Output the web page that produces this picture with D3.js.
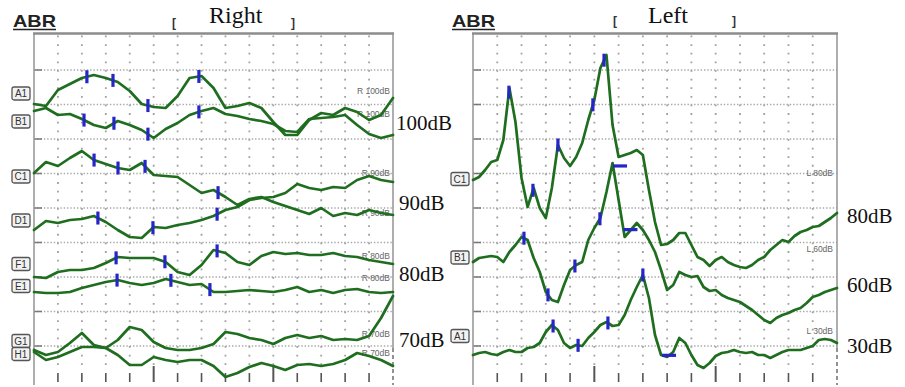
<!DOCTYPE html>
<html><head><meta charset="utf-8">
<script src="https://cdn.jsdelivr.net/npm/d3@7/dist/d3.min.js"></script>
<style>body{margin:0;background:#fff}svg{display:block}</style>
</head><body><svg id="c" width="905" height="387"></svg>
<script>
// ---------- DATA ----------
// time axis (ms), 15 ms sweep
const rightTimes = d3.range(0, 15.001, 0.5);
const leftTimes = d3.range(0, 15.001, 0.25);

// Right ear traces (amplitude units)
const rightChannels = ["A1","B1","C1","D1","F1","E1","G1","H1"];
const rightLevels = ["R 100dB","R 100dB","R 90dB","R 90dB","R 80dB","R 80dB","R 70dB","R 70dB"];
const rA1 = [296,294,310,316,322,325,322,318,309,296,293,292,304,322,324,312,292,294,297,292,278,265,265,280,287,285,292,288,280,285,302];
const rB1 = [289,292,285,286,281,275,272,279,275,270,262,271,277,285,289,292,286,284,281,279,276,269,268,281,282,283,285,275,266,262,265];
const rC1 = [227,238,234,242,249,240,236,232,230,237,225,224,223,215,207,210,203,195,201,203,198,194,190,186,192,184,187,185,190,187,185];
const rD1 = [170,179,177,180,181,184,178,170,163,162,173,172,175,177,180,184,190,193,200,202,203,207,216,212,210,213,212,220,224,220,218];
const rF1 = [123,122,128,130,130,132,137,143,142,142,142,138,128,125,135,150,147,138,135,144,148,146,147,145,145,147,144,143,140,138,136];
const rE1 = [108,107,107,108,112,115,118,120,117,115,117,121,118,115,116,108,108,109,110,109,108,110,113,108,110,107,110,111,108,107,108];
const rG1 = [50,45,48,57,67,55,52,60,73,70,58,52,50,50,52,56,68,66,62,60,56,62,65,62,64,60,61,60,64,82,104];
const rH1 = [48,40,43,48,53,53,52,45,35,35,43,40,38,40,40,34,23,27,33,37,34,30,35,36,34,36,40,47,44,40,34];
const rightPeaks = [[2.21,3.30,4.76,6.89],[2.09,3.34,4.76,6.89],[2.51,3.51,4.64,7.69],[2.67,4.97,7.65],[3.43,5.47,7.65],[3.47,5.72,7.35],[],[]];
const rightIntensity = ["100dB","90dB","80dB","70dB"];

// Left ear traces
const leftChannels = ["C1","B1","A1"];
const leftLevels = ["L 80dB","L 60dB","L 30dB"];
const lC1 = [220,223,230,238,240,260,312,278,222,193,212,192,182,212,255,242,234,243,257,280,300,332,345,275,243,245,247,250,245,210,178,155,156,160,167,167,155,143,140,134,140,143,138,135,133,132,135,140,143,150,155,160,158,164,168,170,173,174,178,182,187];
const lB1 = [138,142,143,144,143,138,148,155,163,160,142,128,108,100,98,115,130,135,138,160,172,182,208,237,200,163,170,177,170,160,148,130,110,115,128,125,123,124,113,109,110,105,102,100,98,94,90,85,80,77,82,85,87,90,92,97,103,105,108,110,112];
const lA1 = [45,47,48,46,45,48,50,48,48,52,53,57,68,75,70,57,52,55,54,62,68,75,78,74,75,85,100,113,125,102,65,45,43,48,62,57,45,35,32,37,44,47,48,50,48,47,48,45,45,42,45,48,50,50,50,52,54,60,61,60,57];
const leftPeaks = [[1.48,2.47,3.50,4.94,5.40],[2.10,3.09,4.20,5.23],[3.30,4.33,5.56,7.00]];
const leftDashes = [[],[5.77,6.20],[7.79]];
const leftIntensity = ["80dB","60dB","30dB"];

// ---------- LAYOUT ----------
const svg = d3.select("#c");
const y = d3.scaleLinear().domain([20, 365]).range([380, 35]);
const GREEN = "#1f6e1f", BLUE = "#2525c8";
const serif = "'Liberation Serif','Times New Roman',serif";
const sans = "'Liberation Sans',Arial,sans-serif";

function interp(times, vals, t) {
  const i = Math.min(times.length - 2, Math.max(0, Math.floor((t - times[0]) / (times[1] - times[0]))));
  const f = (t - times[i]) / (times[i + 1] - times[i]);
  return vals[i] + f * (vals[i + 1] - vals[i]);
}

function panel(cfg) {
  const x = d3.scaleLinear().domain([0, 15]).range([cfg.x0, cfg.x1]);
  const g = svg.append("g");
  const majors = d3.range(0, 9).map(k => 54 + 34.5 * k);
  // vertical dotted grid
  g.selectAll(".vg").data(d3.range(1, 15)).join("line")
    .attr("x1", d => x(d)).attr("x2", d => x(d))
    .attr("y1", 35.5).attr("y2", 366)
    .attr("stroke", "#a0a0a0").attr("stroke-width", 1.8).attr("stroke-dasharray", "1.8,6.825");
  // horizontal dotted grid
  g.selectAll(".hg").data(majors).join("line")
    .attr("x1", cfg.x0).attr("x2", cfg.x1).attr("y1", d => y(d)).attr("y2", d => y(d))
    .attr("stroke", "#a8a8a8").attr("stroke-width", 1.3).attr("stroke-dasharray", "1.4,1.9");
  g.selectAll(".lt").data(majors).join("line")
    .attr("x1", cfg.x0).attr("x2", cfg.x0 + 8).attr("y1", d => y(d)).attr("y2", d => y(d))
    .attr("stroke", "#777").attr("stroke-width", 1.5);
  // frame
  g.append("line").attr("x1", cfg.x0).attr("x2", cfg.x0).attr("y1", 33).attr("y2", 385).attr("stroke", "#9a9a9a").attr("stroke-width", 1.6);
  g.append("line").attr("x1", cfg.x1).attr("x2", cfg.x1).attr("y1", 33).attr("y2", 348).attr("stroke", "#9a9a9a").attr("stroke-width", 1.6);
  g.append("line").attr("x1", cfg.x1).attr("x2", cfg.x1).attr("y1", 348).attr("y2", 385).attr("stroke", "#777").attr("stroke-width", 1.6).attr("stroke-dasharray", "4,3");
  g.append("line").attr("x1", cfg.x0 - 1).attr("x2", cfg.x1 + 1).attr("y1", 33.5).attr("y2", 33.5).attr("stroke", "#8c8c8c").attr("stroke-width", 2.6);
  // bottom ticks
  g.selectAll(".bt").data(d3.range(1, 15)).join("line")
    .attr("x1", d => x(d)).attr("x2", d => x(d))
    .attr("y1", d => d % 5 === 0 ? 366 : 373).attr("y2", 382)
    .attr("stroke", "#555").attr("stroke-width", d => d % 5 === 0 ? 2 : 1.6);
  // level labels (small)
  g.selectAll(".lv").data(cfg.levels).join("text")
    .attr("x", cfg.levelX).attr("y", (d, i) => cfg.levelY[i])
    .attr("text-anchor", "end").attr("font-family", sans).attr("font-size", 8.5)
    .attr("fill", "#666").text(d => d);
  // traces
  const line = d3.line().x((d, i) => x(cfg.times[i])).y(d => y(d));
  g.selectAll(".tr").data(cfg.traces).join("path")
    .attr("d", d => line(d)).attr("fill", "none").attr("stroke", GREEN)
    .attr("stroke-width", 2.7).attr("stroke-linejoin", "round").attr("stroke-linecap", "round");
  // peak markers
  cfg.traces.forEach((tr, k) => {
    g.selectAll(null).data(cfg.peaks[k]).join("rect")
      .attr("x", t => x(t) - 1.6).attr("y", t => y(interp(cfg.times, tr, t)) - 6.5)
      .attr("width", 3.2).attr("height", 13).attr("fill", BLUE);
    if (cfg.dashes) g.selectAll(null).data(cfg.dashes[k]).join("rect")
      .attr("x", t => x(t)).attr("y", t => y(interp(cfg.times, tr, t)) - 1.6)
      .attr("width", 14).attr("height", 3.2).attr("fill", BLUE);
  });
  // channel boxes
  const cb = g.selectAll(".cb").data(cfg.channels).join("g")
    .attr("transform", (d, i) => `translate(${cfg.boxX},${cfg.boxY[i]})`);
  cb.append("rect").attr("x", 0).attr("y", -6.5).attr("width", 18).attr("height", 13).attr("rx", 2)
    .attr("fill", "#f2f2f2").attr("stroke", "#555").attr("stroke-width", 1.3);
  cb.append("text").attr("x", 9).attr("y", 3.5).attr("text-anchor", "middle")
    .attr("font-family", sans).attr("font-size", 10).attr("fill", "#333").text(d => d);
  // intensity labels (big)
  g.selectAll(".it").data(cfg.intensity).join("text")
    .attr("x", (d, i) => cfg.intX[i]).attr("y", (d, i) => cfg.intY[i])
    .attr("font-family", serif).attr("font-size", 21).attr("fill", "#111").text(d => d);
  // header
  g.append("text").attr("x", cfg.abrX).attr("y", 27).attr("font-family", sans).attr("font-weight", "bold")
    .attr("font-size", 17).attr("fill", "#222").attr("textLength", 43).attr("lengthAdjust", "spacingAndGlyphs").text("ABR");
  g.append("line").attr("x1", cfg.abrX).attr("x2", cfg.abrX + 43).attr("y1", 29.5).attr("y2", 29.5).attr("stroke", "#222").attr("stroke-width", 1.6);
  g.append("text").attr("x", cfg.brL).attr("y", cfg.brY).attr("font-family", sans).attr("font-weight", "bold").attr("font-size", 12).attr("fill", "#333").text("[");
  g.append("text").attr("x", cfg.brR).attr("y", cfg.brY).attr("font-family", sans).attr("font-weight", "bold").attr("font-size", 12).attr("fill", "#333").text("]");
  g.append("text").attr("x", cfg.titleX).attr("y", 23).attr("font-family", serif).attr("font-size", 24).attr("fill", "#111").text(cfg.title);
}

panel({
  x0: 34, x1: 393, times: rightTimes,
  traces: [rA1, rB1, rC1, rD1, rF1, rE1, rG1, rH1],
  peaks: rightPeaks, channels: rightChannels, levels: rightLevels,
  boxX: 12, boxY: [93.5, 121.5, 176.5, 220.5, 264, 286, 341, 354],
  levelX: 390, levelY: [94, 117, 176, 216, 259, 281, 337, 356],
  intensity: rightIntensity, intX: [396, 399, 399, 399], intY: [130, 210, 281, 347],
  abrX: 13, brL: 172, brR: 291, brY: 27, titleX: 209, title: "Right"
});
panel({
  x0: 473, x1: 837, times: leftTimes,
  traces: [lC1, lB1, lA1],
  peaks: leftPeaks, dashes: leftDashes, channels: leftChannels, levels: leftLevels,
  boxX: 451, boxY: [179, 257.5, 336],
  levelX: 833, levelY: [176, 252, 334],
  intensity: leftIntensity, intX: [847, 847, 847], intY: [223, 292, 353],
  abrX: 452, brL: 613, brR: 732, brY: 25, titleX: 648, title: "Left"
});
</script></body></html>
